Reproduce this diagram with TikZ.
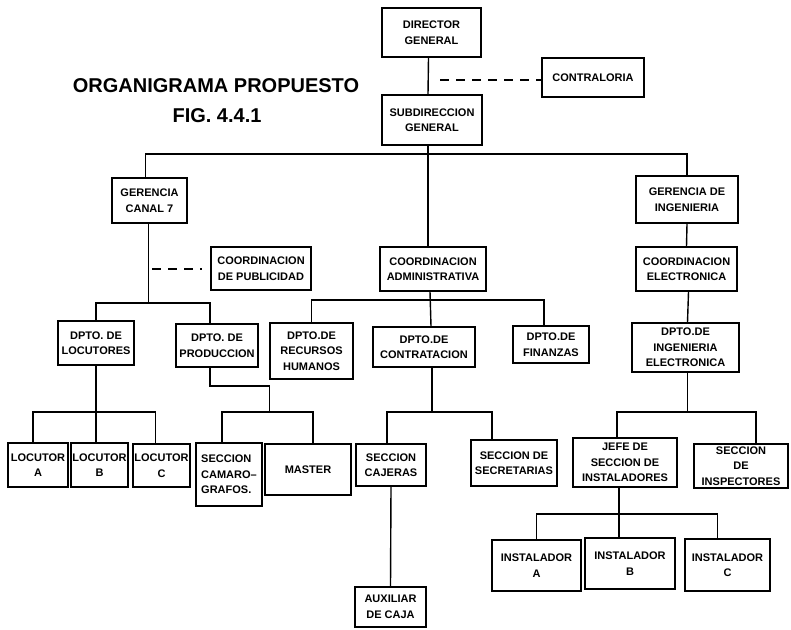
\documentclass[tikz,border=0pt]{standalone}
\usepackage{fontspec}
\setmainfont{Liberation Sans}
\usetikzlibrary{calc}
\newcommand\orgbox[7][]{%
  \pgfmathsetmacro\bw{#5-#3}\pgfmathsetmacro\bh{#6-#4}%
  \pgfmathsetmacro\bcx{(#3+#5)/2}\pgfmathsetmacro\bcy{(#4+#6)/2}%
  \node[box,minimum width=\bw pt,minimum height=\bh pt,#1] (#2) at (\bcx,\bcy) {#7};}
\begin{document}
\begin{tikzpicture}[x=1pt,y=-1pt,
  box/.style={draw,line width=1.4pt,inner sep=1pt,align=center,
    font=\bfseries\fontsize{11}{15.5}\selectfont},
  conn/.style={line width=1.4pt},
  dashconn/.style={line width=1.4pt,dash pattern=on 9pt off 7pt},
  title/.style={font=\bfseries\fontsize{20}{24}\selectfont}]
\useasboundingbox[fill=white] (0,0) rectangle (791,629);

\node[title] (t1) at (216,86) {ORGANIGRAMA PROPUESTO};
\node[title] (t2) at (217,116) {FIG. 4.4.1};

\orgbox{dir}{382}{8}{481}{57}{DIRECTOR\\GENERAL}
\orgbox{contr}{542}{58}{644}{97}{CONTRALORIA}
\orgbox{sub}{382}{95}{482}{145}{SUBDIRECCION\\GENERAL}
\orgbox{gcanal}{112}{178}{187}{223}{GERENCIA\\CANAL 7}
\orgbox{ging}{636}{176}{738}{223}{GERENCIA DE\\INGENIERIA}
\orgbox{cpub}{211}{247}{311}{290}{COORDINACION\\DE PUBLICIDAD}
\orgbox{cadm}{380}{247}{486}{291}{COORDINACION\\ADMINISTRATIVA}
\orgbox{celec}{636}{247}{737}{291}{COORDINACION\\ELECTRONICA}
\orgbox{dloc}{58}{321}{134}{365}{DPTO. DE\\LOCUTORES}
\orgbox{dprod}{176}{324}{258}{367}{DPTO. DE\\PRODUCCION}
\orgbox{drh}{270}{323}{353}{379}{DPTO.DE\\RECURSOS\\HUMANOS}
\orgbox{dcont}{373}{327}{475}{367}{DPTO.DE\\CONTRATACION}
\orgbox{dfin}{513}{326}{589}{363}{DPTO.DE\\FINANZAS}
\orgbox{ding}{632}{323}{739}{372}{DPTO.DE\\INGENIERIA\\ELECTRONICA}
\orgbox{locA}{8}{443}{68}{487}{LOCUTOR\\A}
\orgbox{locB}{71}{443}{128}{487}{LOCUTOR\\B}
\orgbox{locC}{133}{444}{190}{487}{LOCUTOR\\C}
\orgbox[align=left]{scam}{196}{443}{262}{506}{SECCION\\CAMARO--\\GRAFOS.}
\orgbox{master}{265}{444}{351}{495}{MASTER}
\orgbox{scaj}{356}{444}{426}{486}{SECCION\\CAJERAS}
\orgbox{ssec}{471}{440}{557}{486}{SECCION DE\\SECRETARIAS}
\orgbox{jefe}{573}{438}{677}{487}{JEFE DE\\SECCION DE\\INSTALADORES}
\orgbox{sinsp}{694}{444}{788}{488}{SECCION\\DE\\INSPECTORES}
\orgbox{aux}{355}{587}{426}{627}{AUXILIAR\\DE CAJA}
\orgbox{instA}{492}{540}{581}{591}{INSTALADOR\\A}
\orgbox{instB}{585}{538}{675}{589}{INSTALADOR\\B}
\orgbox{instC}{685}{539}{770}{591}{INSTALADOR\\C}

% bus levels
\coordinate (y1) at (0,154);
\coordinate (y2) at (0,303);
\coordinate (y3) at (0,300);
\coordinate (y4) at (0,412);
\coordinate (y5) at (0,514);
\coordinate (yj) at (0,386);
\coordinate (dashA) at (440,80);
\coordinate (dashB) at (152,269);

% top
\draw[conn] ([xshift=-3pt]dir.south) -- ([xshift=-4pt]sub.north);
\draw[dashconn] (dashA) -- (contr.west |- dashA);
\draw[conn] ([xshift=-4pt]sub.south) -- ([xshift=-5pt]cadm.north);
\draw[conn] ([xshift=-4pt]gcanal.north) -- ([xshift=-4pt]gcanal.north |- y1)
  -- (ging.north |- y1) -- (ging.north);

% left branch
\draw[conn] ([xshift=-1pt]gcanal.south) -- ([xshift=-1pt]gcanal.south |- y2);
\draw[dashconn] (dashB) -- ([xshift=-8pt]cpub.west |- dashB);
\draw[conn] (dloc.north) -- (dloc.north |- y2) -- ([xshift=-7pt]dprod.north |- y2)
  -- ([xshift=-7pt]dprod.north);
\draw[conn] (dloc.south) -- (dloc.south |- locB.north);
\draw[conn] ([xshift=-5pt]locA.north) -- ([xshift=-5pt]locA.north |- y4)
  -- ([xshift=-6pt]locC.north |- y4) -- ([xshift=-6pt]locC.north);
\draw[conn] ([xshift=-7pt]dprod.south) -- ([xshift=-7pt]dprod.south |- yj)
  -- ([xshift=5pt]master.north west |- yj) -- ([xshift=5pt]master.north west |- y4);
\draw[conn] ([xshift=-7pt]scam.north) -- ([xshift=-7pt]scam.north |- y4)
  -- ([xshift=5pt]master.north |- y4) -- ([xshift=5pt]master.north);

% middle branch
\draw[conn] ([xshift=-3pt]cadm.south) -- ([xshift=7pt]dcont.north);
\draw[conn] (drh.north) -- (drh.north |- y3) -- ([xshift=-7pt]dfin.north |- y3)
  -- ([xshift=-7pt]dfin.north);
\draw[conn] ([xshift=8pt]dcont.south) -- ([xshift=8pt]dcont.south |- y4);
\draw[conn] ([xshift=-4pt]scaj.north) -- ([xshift=-4pt]scaj.north |- y4)
  -- ([xshift=-22pt]ssec.north |- y4) -- ([xshift=-22pt]ssec.north);
\draw[conn] (scaj.south) -- (aux.north);

% right branch
\draw[conn] (ging.south) -- (celec.north);
\draw[conn] ([xshift=2pt]celec.south) -- ([xshift=2pt]ding.north);
\draw[conn] ([xshift=2pt]ding.south) -- ([xshift=2pt]ding.south |- y4);
\draw[conn] ([xshift=-8pt]jefe.north) -- ([xshift=-8pt]jefe.north |- y4)
  -- ([xshift=15pt]sinsp.north |- y4) -- ([xshift=15pt]sinsp.north);
\draw[conn] ([xshift=-6pt]jefe.south) -- ([xshift=-6pt]jefe.south |- instB.north);
\draw[conn] (instA.north) -- (instA.north |- y5) -- ([xshift=-10pt]instC.north |- y5)
  -- ([xshift=-10pt]instC.north);
\end{tikzpicture}
\end{document}
